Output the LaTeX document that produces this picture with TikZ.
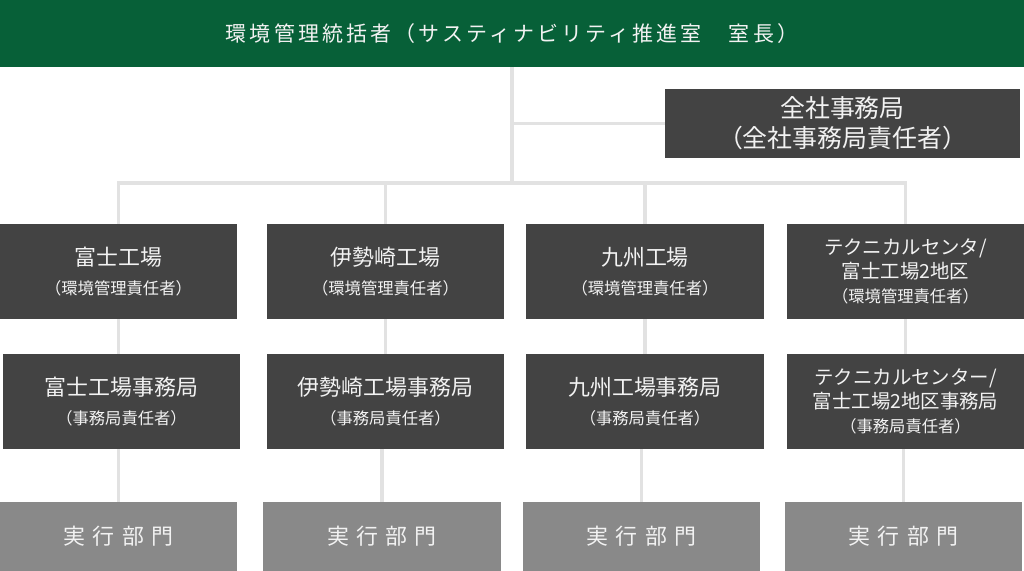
\documentclass[tikz,border=0pt]{standalone}
\usepackage{fontspec}
\setmainfont{Noto Sans CJK JP}
\newfontfamily\headfont[LetterSpace=15]{Noto Sans CJK JP}
\newfontfamily\deptfont[LetterSpace=33]{Noto Sans CJK JP}
\definecolor{mygreen}{RGB}{7,96,56}
\definecolor{mydark}{RGB}{67,67,67}
\definecolor{mygray}{RGB}{137,137,137}
\definecolor{myline}{RGB}{226,226,226}
\definecolor{mytext}{RGB}{242,242,242}
\newcommand{\subline}[1]{{\fontsize{11.6}{13.5}\selectfont #1}}

\begin{document}
\begin{tikzpicture}[x=0.025cm,y=-0.025cm,
  box/.style={rectangle,inner sep=0pt,outer sep=0pt,text=mytext,align=center},
  headbox/.style={box,fill=mygreen,minimum width=25.6cm,minimum height=1.675cm,
    font=\headfont\fontsize{14.9}{18}\selectfont},
  offbox/.style={box,fill=mydark,minimum width=8.875cm,minimum height=1.725cm,
    font=\fontsize{17.7}{21.3}\selectfont},
  facbox/.style={box,fill=mydark,minimum width=5.925cm,minimum height=2.375cm,
    font=\fontsize{15.6}{20.5}\selectfont},
  techbox/.style={facbox,font=\fontsize{13.8}{16.8}\selectfont},
  deptbox/.style={box,fill=mygray,minimum width=5.925cm,minimum height=1.725cm,
    font=\deptfont\fontsize{15.6}{18}\selectfont},
  link/.style={draw=myline,line width=2.8pt}]

  \useasboundingbox (0,0) rectangle (1024,571);

  % top manager
  \node[headbox] (head) at (512,33.5) {環境管理統括者（サスティナビリティ推進室　室長）};
  \node[offbox] (office) at (842.5,123.5) {全社事務局\\（全社事務局責任者）};

  % factories
  \node[facbox] (f1) at (118.5,271.5) {富士工場\\\subline{（環境管理責任者）}};
  \node[facbox] (f2) at (385.5,271.5) {伊勢崎工場\\\subline{（環境管理責任者）}};
  \node[facbox] (f3) at (645,271.5) {九州工場\\\subline{（環境管理責任者）}};
  \node[techbox] (f4) at (905.5,271.5) {テクニカルセンタ/\\富士工場2地区\\\subline{（環境管理責任者）}};

  % factory offices
  \node[facbox] (s1) at (121.5,401.5) {富士工場事務局\\\subline{（事務局責任者）}};
  \node[facbox] (s2) at (385.5,401.5) {伊勢崎工場事務局\\\subline{（事務局責任者）}};
  \node[facbox] (s3) at (645,401.5) {九州工場事務局\\\subline{（事務局責任者）}};
  \node[techbox] (s4) at (905.5,401.5) {テクニカルセンター/\\富士工場2地区事務局\\\subline{（事務局責任者）}};

  % execution departments
  \node[deptbox] (d1) at (118.5,536.5) {実行部門};
  \node[deptbox] (d2) at (382,536.5) {実行部門};
  \node[deptbox] (d3) at (641.5,536.5) {実行部門};
  \node[deptbox] (d4) at (903.5,536.5) {実行部門};

  % trunk and bus
  \coordinate (bus) at (512,183);
  \draw[link] (head.south) -- (bus);
  \draw[link] (head.south |- office.west) -- (office.west);
  \draw[link] (f1.north) -- (f1.north |- bus) -- (f4.north |- bus) -- (f4.north);
  \draw[link] (f2.north) -- (f2.north |- bus);
  \draw[link] (f3.north) -- (f3.north |- bus);

  % down the columns
  \foreach \i in {1,2,3,4}{
    \draw[link] (f\i.south) -- (f\i.south |- s\i.north);
    \draw[link] (d\i.north |- s\i.south) -- (d\i.north);
  }
\end{tikzpicture}
\end{document}
